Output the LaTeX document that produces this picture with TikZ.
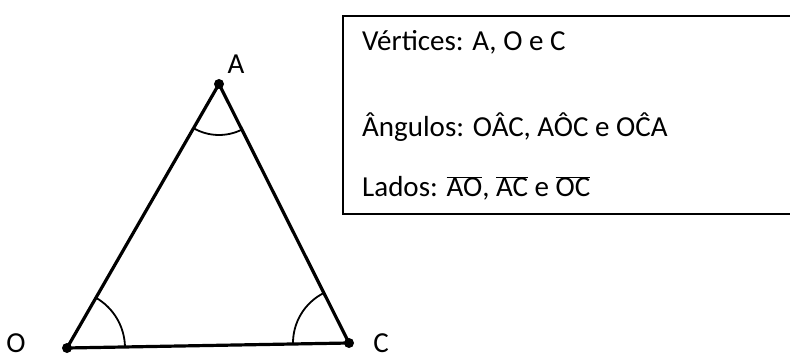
\documentclass[tikz,border=0pt]{standalone}
\usepackage{fontspec}
\setmainfont{Carlito}
\usetikzlibrary{angles}

\begin{document}
\begin{tikzpicture}[x=1pt, y=-1pt, every node/.style={font=\fontsize{29}{34}\selectfont, inner sep=0pt}, side/.style={line width=3.2pt, line cap=round, line join=round}, arc/.style={draw, line width=1.8pt}, dot/.style={circle, fill, minimum size=10pt}, lbl/.style={anchor=base}, line/.style={anchor=base west}]
\useasboundingbox (0,0) rectangle (790,358);
% vertices
\node[dot] (A) at (219,84) {};
\node[dot] (O) at (67,348) {};
\node[dot] (C) at (349,343) {};
\node[lbl] (la) at (236,74) {A};
\node[lbl] (lo) at (16,352) {O};
\node[lbl] (lc) at (381,352) {C};
\draw[side] (A.center) -- (O.center) -- (C.center) -- cycle;
\pic[arc, angle radius=51pt] {angle=O--A--C};
\pic[arc, angle radius=58pt] {angle=C--O--A};
\pic[arc, angle radius=56pt] {angle=A--C--O};
% box with the names
\begin{scope}
\clip (0,0) rectangle (790,358);
\node[draw, line width=2pt, anchor=north west, minimum width=470pt, minimum height=198pt] (box) at (342,15) {};
\end{scope}
\node[line] (vert) at (362,51) {Vértices: A, O e C};
\node[line] (ang) at (362,137) {Ângulos: OÂC, AÔC e OĈA};
\node[line] (lad) at (362,197) {Lados: $\overline{\mbox{AO}}$, $\overline{\mbox{AC}}$ e $\overline{\mbox{OC}}$};
\end{tikzpicture}
\end{document}
